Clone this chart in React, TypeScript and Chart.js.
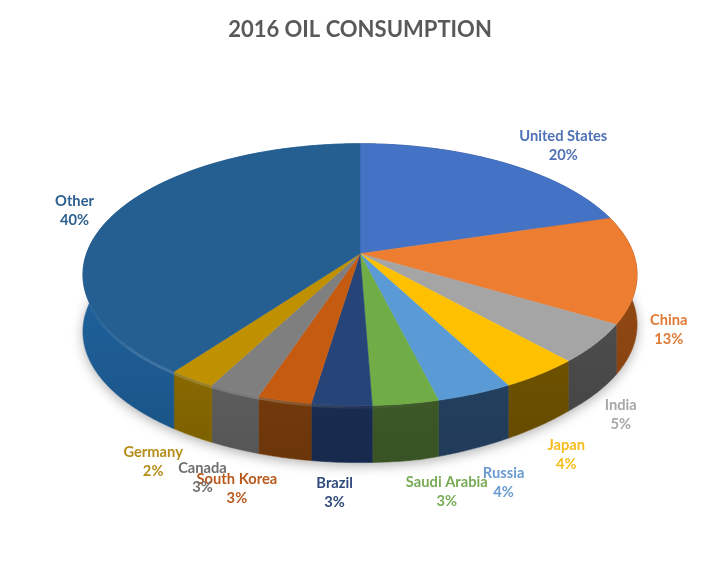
import React, { useEffect, useRef } from "react";
import { Chart, registerables } from "chart.js";

Chart.register(...registerables);

const categories = ["United States", "China", "India", "Japan", "Russia", "Saudi Arabia", "Brazil", "South Korea", "Canada", "Germany", "Other"];
const shares = [20.3, 13.2, 4.8, 4.0, 3.8, 3.3, 3.0, 2.7, 2.6, 2.4, 39.9];
const sliceColors = ["#4472c4", "#ed7d31", "#a5a5a5", "#ffc000", "#5b9bd5", "#70ad47", "#264478", "#c55a11", "#7f7f7f", "#bf9000", "#255e91"];
const wallColors = ["#2a4a80", "#8f4712", "#4d4d4d", "#735500", "#264466", "#41602a", "#1b3058", "#7c3e0c", "#636363", "#8f6e00", "#1e5f98"];
const labelColors = ["#4f71b5", "#e07a35", "#a8a8a8", "#f5bd1e", "#6a9bd0", "#78ab55", "#2f4a7c", "#b9591c", "#6f6f6f", "#b58d1a", "#2b5f8f"];
const labelNudges: [number, number][] = [[59, -17], [32, 61], [25, 72], [26, 81], [29, 89], [41, 88], [-7, 88], [-47.5, 89], [-32, 87], [-39, 83], [-38, -5]];

const TITLE = "2016 OIL CONSUMPTION";
const FONT = "Lato";
const RADIUS = 210;
const X_STRETCH = 273.5 / RADIUS;
const Y_STRETCH = 127.6 / RADIUS;
const TILT = 0.16;
const DEPTH = 57;
const DEPTH_LOSS_RIGHT = 7;

const pie3d = {
  id: "pie3d",
  beforeDatasetDraw(chart: any) {
    const ctx: CanvasRenderingContext2D = chart.ctx;
    const arcs = chart.getDatasetMeta(0).data as any[];
    const cx = arcs[0].x;
    const cy = arcs[0].y;
    const R = arcs[0].outerRadius;
    const a = R * X_STRETCH;
    const b = R * Y_STRETCH;
    const project = (angle: number, foot = false, lift = 0) => {
      const u = Math.cos(angle);
      const v = Math.sin(angle);
      const den = 1 - TILT * v;
      const x = cx + (a * u) / den;
      const t = Math.min(1, Math.max(0, (x - cx - 60) / 150));
      const drop = foot ? DEPTH - DEPTH_LOSS_RIGHT * t : 0;
      return { x, y: cy + (b * v) / den + drop + lift };
    };
    const trace = (from: number, to: number, foot: boolean, move: boolean, lift = 0) => {
      const steps = Math.max(2, Math.ceil(Math.abs(to - from) / 0.01));
      for (let i = 0; i <= steps; i++) {
        const p = project(from + ((to - from) * i) / steps, foot, lift);
        if (i === 0 && move) ctx.moveTo(p.x, p.y);
        else ctx.lineTo(p.x, p.y);
      }
    };
    const left = cx - a * 1.013;
    const right = cx + a * 1.013;

    ctx.save();
    // soft shadow beneath the disc
    ctx.save();
    ctx.shadowColor = "rgba(60,60,60,0.4)";
    ctx.shadowBlur = 12;
    ctx.shadowOffsetY = 3;
    ctx.fillStyle = "#ffffff";
    ctx.beginPath();
    trace(0, Math.PI * 2, true, true);
    ctx.closePath();
    ctx.fill();
    ctx.restore();

    // side walls
    arcs.forEach((arc, i) => {
      ctx.fillStyle = wallColors[i];
      ctx.strokeStyle = wallColors[i];
      ctx.lineWidth = 0.6;
      ctx.beginPath();
      trace(arc.startAngle, arc.endAngle, false, true);
      trace(arc.endAngle, arc.startAngle, true, false);
      ctx.closePath();
      ctx.fill();
      ctx.stroke();
    });
    // darkening towards the foot of the wall
    const foot = ctx.createLinearGradient(0, cy + 60, 0, cy + 152 + DEPTH);
    foot.addColorStop(0, "rgba(0,0,0,0)");
    foot.addColorStop(1, "rgba(0,0,0,0.14)");
    ctx.fillStyle = foot;
    ctx.beginPath();
    trace(-0.16, Math.PI + 0.16, false, true);
    trace(Math.PI + 0.16, -0.16, true, false);
    ctx.closePath();
    ctx.fill();

    // soft bevel on the wall just under the front rim
    const rim = ctx.createLinearGradient(left, 0, right, 0);
    rim.addColorStop(0, "rgba(255,255,255,0)");
    rim.addColorStop(0.1, "rgba(255,255,255,0.14)");
    rim.addColorStop(0.32, "rgba(255,255,255,0.2)");
    rim.addColorStop(0.5, "rgba(255,255,255,0.05)");
    rim.addColorStop(0.65, "rgba(255,255,255,0)");
    ctx.strokeStyle = rim;
    ctx.lineWidth = 3;
    ctx.beginPath();
    trace(0.3, Math.PI - 0.1, false, true, 1.5);
    ctx.stroke();

    // top surface
    arcs.forEach((arc, i) => {
      ctx.fillStyle = sliceColors[i];
      ctx.strokeStyle = sliceColors[i];
      ctx.lineWidth = 0.5;
      ctx.beginPath();
      ctx.moveTo(cx, cy);
      trace(arc.startAngle, arc.endAngle, false, false);
      ctx.closePath();
      ctx.fill();
      ctx.stroke();
    });
    ctx.restore();
    return false;
  },
  afterDatasetsDraw(chart: any) {
    const ctx: CanvasRenderingContext2D = chart.ctx;
    const arcs = chart.getDatasetMeta(0).data as any[];
    const total = shares.reduce((s, v) => s + v, 0);
    ctx.save();
    ctx.textAlign = "center";
    ctx.textBaseline = "middle";
    ctx.font = `bold 14.7px ${FONT}`;
    arcs.forEach((arc, i) => {
      const mid = (arc.startAngle + arc.endAngle) / 2;
      const den = 1 - TILT * Math.sin(mid);
      const x = arc.x + (arc.outerRadius * X_STRETCH * Math.cos(mid)) / den + labelNudges[i][0];
      const y = arc.y + (arc.outerRadius * Y_STRETCH * Math.sin(mid)) / den + labelNudges[i][1];
      ctx.fillStyle = labelColors[i];
      ctx.fillText(categories[i], x, y - 10);
      ctx.fillText(`${Math.round((shares[i] / total) * 100)}%`, x, y + 9);
    });
    ctx.restore();
  },
};

export default function App() {
  const ref = useRef<HTMLCanvasElement>(null);
  useEffect(() => {
    const chart = new Chart(ref.current as HTMLCanvasElement, {
      type: "pie",
      data: {
        labels: categories,
        datasets: [{ data: shares, backgroundColor: sliceColors, borderWidth: 0 }],
      },
      options: {
        animation: false,
        responsive: false,
        devicePixelRatio: 1,
        radius: RADIUS,
        layout: { padding: { bottom: 122 } },
        plugins: {
          legend: { display: false },
          tooltip: { enabled: false },
          title: {
            display: true,
            text: TITLE,
            color: "#595959",
            font: { family: FONT, size: 22, weight: "bold" },
            padding: { top: 17, bottom: 0 },
          },
        },
      } as any,
      plugins: [pie3d],
    });
    return () => chart.destroy();
  }, []);
  return (
    <div style={{ position: "fixed", left: 0, top: 0, width: 720, height: 586, background: "#fff" }}>
      <canvas ref={ref} width={720} height={586} style={{ display: "block", filter: "blur(0.6px)" }} />
    </div>
  );
}
